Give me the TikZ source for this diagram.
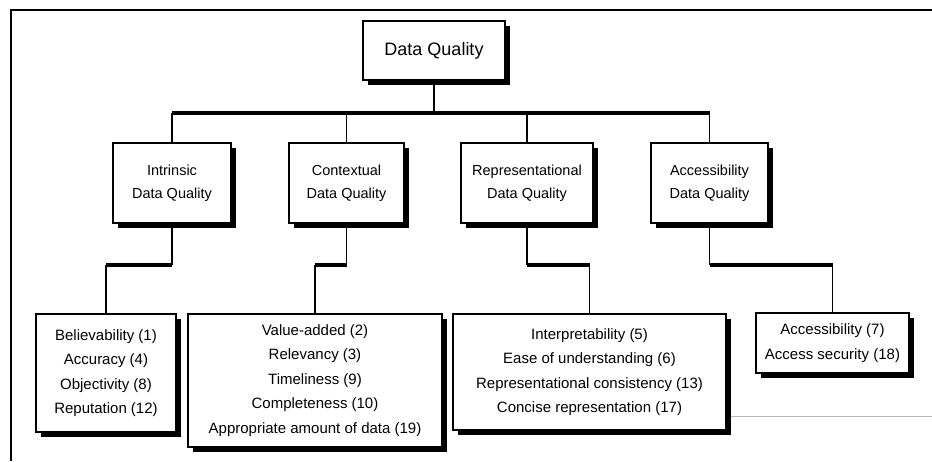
\documentclass[tikz,border=0pt]{standalone}
\usepackage{fontspec}
\setmainfont{Liberation Sans}
\usetikzlibrary{shadows}
\begin{document}
\begin{tikzpicture}[x=1pt, y=-1pt,
    box/.style={draw, line width=1.6pt, fill=white, inner sep=0pt, align=center,
      general shadow={shadow xshift=4.5pt, shadow yshift=-4.5pt, fill=black}},
    heads/.style={box, minimum height=80pt, font=\fontsize{14.5}{23}\selectfont},
    items/.style={box, font=\fontsize{15}{24.5}\selectfont},
    link/.style={line width=1.6pt},
    bar/.style={line width=3.5pt}]
  \useasboundingbox (0,0) rectangle (932,461);
  % frame
  \draw[link] (11,461) -- (11,10) -- (932,10);
  \draw[gray!55, line width=1pt] (614,416) -- (932,416);
  \node[box, minimum width=142pt, minimum height=59pt, font=\fontsize{18}{22}\selectfont] (root) at (434,50.5) {Data Quality};
  \node[heads, minimum width=118pt] (intr) at (172,183) {Intrinsic\\Data Quality};
  \node[heads, minimum width=115pt] (ctx) at (346.5,183) {Contextual\\Data Quality};
  \node[heads, minimum width=132pt] (repr) at (527,183) {Representational\\Data Quality};
  \node[heads, minimum width=117pt] (acc) at (709.5,183) {Accessibility\\Data Quality};
  \node[items, minimum width=140pt, minimum height=118pt] (intrI) at (106,373)
    {Believability (1)\\Accuracy (4)\\Objectivity (8)\\Reputation (12)};
  \node[items, minimum width=254pt, minimum height=133pt] (ctxI) at (315,380.5)
    {Value-added (2)\\Relevancy (3)\\Timeliness (9)\\Completeness (10)\\Appropriate amount of data (19)};
  \node[items, minimum width=273pt, minimum height=116pt] (reprI) at (589.5,372)
    {Interpretability (5)\\Ease of understanding (6)\\Representational consistency (13)\\Concise representation (17)};
  \node[items, minimum width=153pt, minimum height=60pt] (accI) at (832.5,343)
    {Accessibility (7)\\Access security (18)};
  % connectors
  \coordinate (bus) at (434,113);
  \coordinate (stair) at (0,265);
  \draw[link] (root.south) -- (root.south |- bus);
  \draw[bar] (intr.north |- bus) -- (acc.north |- bus);
  \foreach \up/\down in {intr/intrI, ctx/ctxI, repr/reprI, acc/accI} {
    \draw[link] (\up.north |- bus) -- (\up.north);
    \draw[link] (\up.south) -- (\up.south |- stair);
    \draw[bar] (\up.south |- stair) -- (\down.north |- stair);
    \draw[link] (\down.north |- stair) -- (\down.north);
  }
\end{tikzpicture}
\end{document}
